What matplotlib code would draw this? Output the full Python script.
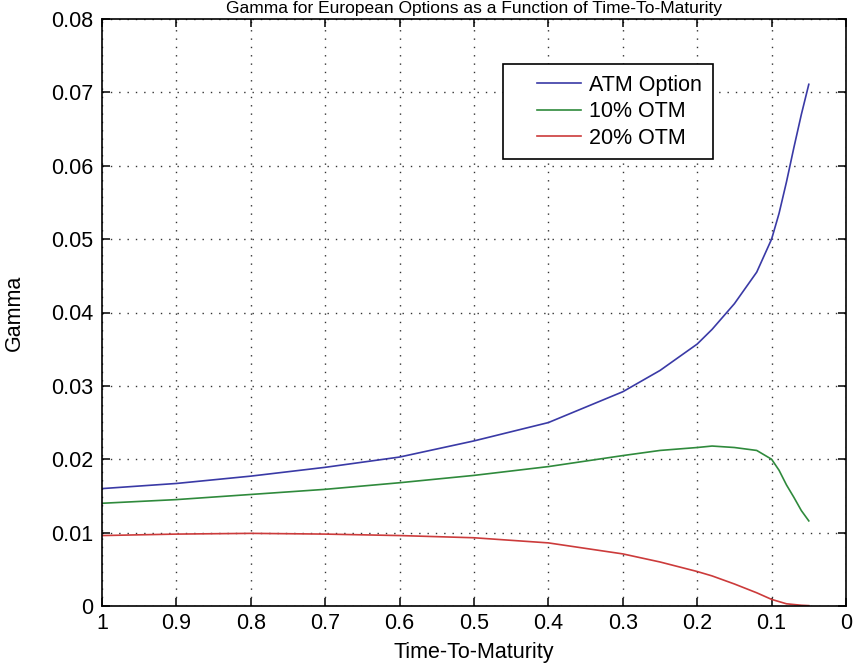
import matplotlib
matplotlib.use("Agg")
import matplotlib.pyplot as plt
from matplotlib.lines import Line2D
from matplotlib.legend_handler import HandlerLine2D

# ---- data ----
time_to_maturity = [1.0, 0.9, 0.8, 0.7, 0.6, 0.5, 0.4, 0.3, 0.25, 0.2, 0.18,
                    0.15, 0.12, 0.1, 0.09, 0.08, 0.07, 0.06, 0.05]
gamma_atm = [0.0160, 0.0167, 0.0177, 0.0189, 0.0203, 0.0225, 0.0250, 0.0292,
             0.0321, 0.0357, 0.0377, 0.0412, 0.0455, 0.0500, 0.0535, 0.0578,
             0.0625, 0.0670, 0.0711]
gamma_otm10 = [0.0140, 0.0145, 0.0152, 0.0159, 0.0168, 0.0178, 0.0190, 0.0205,
               0.0212, 0.0216, 0.0218, 0.0216, 0.0212, 0.0200, 0.0185, 0.0165,
               0.0148, 0.0130, 0.0116]
gamma_otm20 = [0.0096, 0.0098, 0.0099, 0.0098, 0.0096, 0.0093, 0.0086, 0.0071,
               0.0060, 0.0047, 0.0041, 0.0030, 0.0018, 0.0009, 0.0006, 0.0003,
               0.0002, 0.0001, 0.00005]
series_labels = ["ATM Option", "10% OTM", "20% OTM"]
x_ticks = [1, 0.9, 0.8, 0.7, 0.6, 0.5, 0.4, 0.3, 0.2, 0.1, 0]
x_tick_labels = ["1", "0.9", "0.8", "0.7", "0.6", "0.5", "0.4", "0.3", "0.2", "0.1", "0"]
y_ticks = [0, 0.01, 0.02, 0.03, 0.04, 0.05, 0.06, 0.07, 0.08]
y_tick_labels = ["0", "0.01", "0.02", "0.03", "0.04", "0.05", "0.06", "0.07", "0.08"]
title_text = "Gamma for European Options as a Function of Time-To-Maturity"
x_label = "Time-To-Maturity"
y_label = "Gamma"

plt.rcParams['font.family'] = ['Liberation Sans', 'DejaVu Sans']
FS = 15.5

fig = plt.figure(figsize=(8.54, 6.64), dpi=100, facecolor='white')
ax = fig.add_axes([102/854, 1 - 606/664, 744/854, 587/664])

colors = ['#3a3aa6', '#2f8a3c', '#cc3b3b']
for ys, lab, c in zip([gamma_atm, gamma_otm10, gamma_otm20], series_labels, colors):
    ax.plot(time_to_maturity, ys, color=c, lw=1.2, label=lab)

ax.set_xlim(1, 0)
ax.set_ylim(0, 0.08)
ax.set_xticks(x_ticks)
ax.set_xticklabels(x_tick_labels)
ax.set_yticks(y_ticks)
ax.set_yticklabels(y_tick_labels)

ax.grid(True, color='#333333', linestyle=(0, (1, 5)), linewidth=1.0)
ax.tick_params(direction='in', top=True, right=True, length=6, width=1.1,
               labelsize=FS, colors='black')
ax.tick_params(axis='x', pad=5)
ax.tick_params(axis='y', pad=6.5)
for s in ax.spines.values():
    s.set_linewidth(1.2)
    s.set_color('black')

ax.set_xlabel(x_label, fontsize=FS)
ax.xaxis.set_label_coords(0.5, -0.061)
ax.set_ylabel(y_label, fontsize=FS)
ax.yaxis.set_label_coords(-0.1035, 0.5)

fig.text(474/854, 1 - 1/664, title_text, fontsize=12.5, ha='center', va='top')

leg = ax.legend(loc='upper left', bbox_to_anchor=(0.539, 0.923), fontsize=FS,
                frameon=True, fancybox=False, shadow=False, framealpha=1,
                edgecolor='black', borderpad=0.5, labelspacing=0.25,
                handlelength=3.1, handletextpad=0.4, borderaxespad=0,
                handler_map={Line2D: HandlerLine2D(xpad=1.1)})
leg.get_frame().set_linewidth(1.2)

fig.savefig("out.png", dpi=100, facecolor='white')
